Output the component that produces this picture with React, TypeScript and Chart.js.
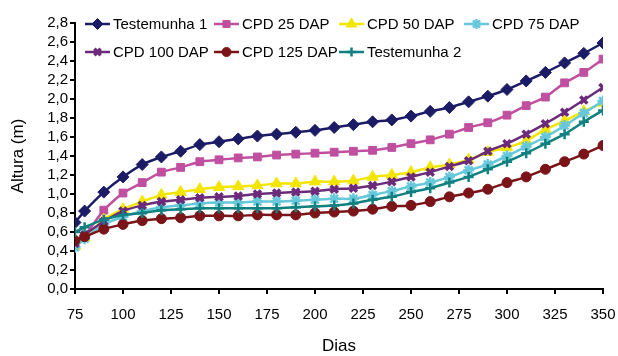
import React, { useEffect, useRef } from "react";
import { Chart, registerables } from "chart.js";
import { drawPoint } from "chart.js/helpers";

Chart.register(...registerables);

const days = [75, 80, 90, 100, 110, 120, 130, 140, 150, 160, 170, 180, 190, 200, 210, 220, 230, 240, 250, 260, 270, 280, 290, 300, 310, 320, 330, 340, 350];
const testemunha1 = [0.70, 0.82, 1.02, 1.18, 1.31, 1.39, 1.45, 1.52, 1.55, 1.58, 1.61, 1.63, 1.65, 1.67, 1.70, 1.73, 1.76, 1.78, 1.82, 1.87, 1.91, 1.97, 2.03, 2.10, 2.19, 2.28, 2.38, 2.48, 2.59];
const cpd25 = [0.47, 0.56, 0.83, 1.01, 1.12, 1.23, 1.28, 1.34, 1.36, 1.38, 1.39, 1.41, 1.42, 1.43, 1.44, 1.45, 1.46, 1.49, 1.53, 1.57, 1.63, 1.70, 1.75, 1.83, 1.93, 2.02, 2.17, 2.28, 2.42];
const cpd50 = [0.45, 0.54, 0.73, 0.84, 0.92, 0.99, 1.02, 1.05, 1.07, 1.08, 1.09, 1.11, 1.11, 1.13, 1.13, 1.14, 1.18, 1.20, 1.23, 1.28, 1.31, 1.36, 1.44, 1.49, 1.56, 1.68, 1.77, 1.87, 1.96];
const cpd75 = [0.44, 0.53, 0.68, 0.76, 0.82, 0.86, 0.88, 0.90, 0.91, 0.91, 0.92, 0.92, 0.93, 0.94, 0.95, 0.95, 0.99, 1.03, 1.08, 1.12, 1.18, 1.25, 1.31, 1.40, 1.50, 1.60, 1.72, 1.85, 1.98];
const cpd100 = [0.48, 0.57, 0.71, 0.82, 0.88, 0.92, 0.94, 0.96, 0.97, 0.98, 1.00, 1.01, 1.02, 1.03, 1.05, 1.06, 1.09, 1.13, 1.18, 1.23, 1.29, 1.35, 1.45, 1.53, 1.63, 1.74, 1.86, 1.99, 2.12];
const cpd125 = [0.51, 0.55, 0.63, 0.68, 0.72, 0.74, 0.75, 0.77, 0.77, 0.77, 0.78, 0.78, 0.78, 0.80, 0.81, 0.82, 0.84, 0.87, 0.88, 0.92, 0.97, 1.01, 1.05, 1.12, 1.18, 1.26, 1.34, 1.42, 1.51];
const testemunha2 = [0.60, 0.65, 0.73, 0.78, 0.80, 0.83, 0.84, 0.85, 0.85, 0.85, 0.85, 0.85, 0.86, 0.87, 0.88, 0.90, 0.94, 0.97, 1.02, 1.06, 1.12, 1.18, 1.26, 1.34, 1.43, 1.53, 1.63, 1.76, 1.88];

const seriesLabels = ["Testemunha 1", "CPD 25 DAP", "CPD 50 DAP", "CPD 75 DAP", "CPD 100 DAP", "CPD 125 DAP", "Testemunha 2"];
const seriesValues = [testemunha1, cpd25, cpd50, cpd75, cpd100, cpd125, testemunha2];

const styles = [
  { color: "#1C1C66", point: "rectRot", radius: 6, bw: 1 },
  { color: "#C04FA0", point: "rect", radius: 5.5, bw: 1 },
  { color: "#F2E600", point: "triangle", radius: 6.5, bw: 1 },
  { color: "#66C8DA", point: "star", radius: 5.5, bw: 2.5 },
  { color: "#6B2A7A", point: "crossRot", radius: 5, bw: 3.5 },
  { color: "#7A1418", point: "circle", radius: 5, bw: 1 },
  { color: "#118080", point: "cross", radius: 5, bw: 2.5 },
];

// legend placement: [column, row]
const legendCells = [[0, 0], [1, 0], [2, 0], [3, 0], [0, 1], [1, 1], [2, 1]];
const legendColX = [85, 214, 339, 464];
const legendRowY = [24, 52];

const FONT = "'Liberation Sans', Arial, sans-serif";

const legendPlugin = {
  id: "customLegend",
  afterDraw(chart: any) {
    const ctx = chart.ctx;
    ctx.save();
    chart.data.datasets.forEach((ds: any, i: number) => {
      const [c, r] = legendCells[i];
      const x = legendColX[c];
      const y = legendRowY[r];
      ctx.strokeStyle = ds.borderColor;
      ctx.lineWidth = 2.5;
      ctx.beginPath();
      ctx.moveTo(x, y);
      ctx.lineTo(x + 25, y);
      ctx.stroke();
      ctx.fillStyle = ds.pointBackgroundColor;
      ctx.strokeStyle = ds.pointBorderColor;
      ctx.lineWidth = ds.pointBorderWidth;
      drawPoint(ctx, { pointStyle: ds.pointStyle, radius: ds.pointRadius - 0.5, rotation: 0, borderWidth: ds.pointBorderWidth }, x + 12.5, y);
      ctx.fillStyle = "#000";
      ctx.font = `15px ${FONT}`;
      ctx.textBaseline = "middle";
      ctx.textAlign = "left";
      ctx.fillText(ds.label, x + 28, y + 1);
    });
    ctx.restore();
  },
};

export default function App() {
  const ref = useRef<HTMLCanvasElement>(null);
  useEffect(() => {
    const datasets = seriesLabels.map((label, i) => ({
      label,
      data: days.map((d, j) => ({ x: d, y: seriesValues[i][j] })),
      borderColor: styles[i].color,
      backgroundColor: styles[i].color,
      pointBackgroundColor: styles[i].color,
      pointBorderColor: styles[i].color,
      pointStyle: styles[i].point,
      pointRadius: styles[i].radius,
      pointBorderWidth: styles[i].bw,
      borderWidth: 2.5,
      tension: 0.2,
      order: 6 - i,
    }));
    const chart = new Chart(ref.current as HTMLCanvasElement, {
      type: "line",
      data: { datasets } as any,
      options: {
        responsive: false,
        animation: false,
        layout: { padding: { left: 0, right: 15, top: 23, bottom: 0 } },
        plugins: { legend: { display: false }, tooltip: { enabled: false } },
        scales: {
          x: {
            type: "linear",
            min: 75,
            max: 350,
            afterFit: (s: any) => { s.height = 67; s.paddingRight = 0; s.paddingLeft = 0; },
            ticks: { stepSize: 25, color: "#000", font: { family: FONT, size: 15 }, padding: 12, maxRotation: 0, autoSkip: false },
            grid: { display: true, drawOnChartArea: false, drawTicks: true, tickLength: 5, color: "#000", lineWidth: 2 },
            border: { display: true, color: "#000", width: 2 },
            title: { display: true, text: "Dias", color: "#000", font: { family: FONT, size: 17 }, padding: { top: 0, bottom: -1 } },
          },
          y: {
            min: 0,
            max: 2.8,
            afterFit: (s: any) => { s.width = 75; s.paddingTop = 0; s.paddingBottom = 0; },
            ticks: { stepSize: 0.2, autoSkip: false, color: "#000", font: { family: FONT, size: 15 }, padding: 2, callback: (v: any) => Number(v).toFixed(1).replace(".", ",") },
            grid: { display: true, drawOnChartArea: false, drawTicks: true, tickLength: 5, color: "#000", lineWidth: 2 },
            border: { display: true, color: "#000", width: 2 },
            title: { display: true, text: "Altura (m)", color: "#000", font: { family: FONT, size: 17 }, padding: { top: 8, bottom: 0 } },
          },
        },
      } as any,
      plugins: [legendPlugin],
    });
    return () => chart.destroy();
  }, []);
  return (
    <div style={{ position: "fixed", left: 0, top: 0, width: 618, height: 356, background: "#fff" }}>
      <canvas ref={ref} width={618} height={356} />
    </div>
  );
}
